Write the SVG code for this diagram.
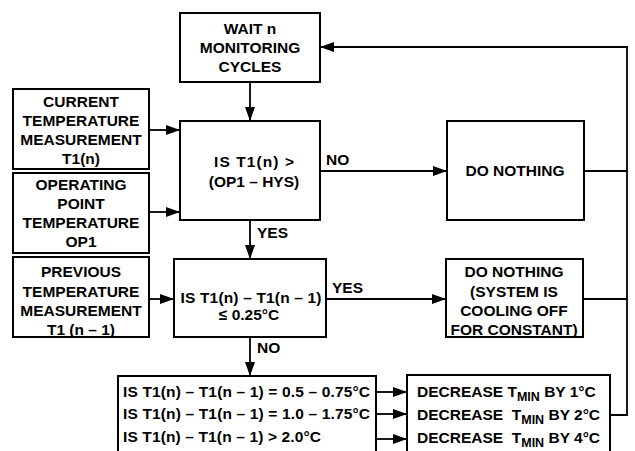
<svg xmlns="http://www.w3.org/2000/svg" width="635" height="451" viewBox="0 0 635 451">
<style>
.box{fill:#fff;stroke:#000;stroke-width:2}
.ln{fill:none;stroke:#000;stroke-width:1.8}
text{font-family:"Liberation Sans",Arial,Helvetica,sans-serif;font-weight:bold;font-size:15.5px;fill:#000}
.c{text-anchor:middle}
.sub{font-size:12.5px}
</style>
<defs>
<marker id="ah" viewBox="0 0 14 10" refX="14" refY="5" markerWidth="14" markerHeight="10" markerUnits="userSpaceOnUse" orient="auto">
<path d="M0,0 L14,5 L0,10 z" fill="#000"/>
</marker>
</defs>
<rect width="635" height="451" fill="#fff"/>
<g id="connectors">
<path class="ln" d="M250,82 V121" marker-end="url(#ah)"/>
<path class="ln" d="M149,130 H180" marker-end="url(#ah)"/>
<path class="ln" d="M149,212 H180" marker-end="url(#ah)"/>
<path class="ln" d="M250,220 V259" marker-end="url(#ah)"/>
<path class="ln" d="M149,299 H174" marker-end="url(#ah)"/>
<path class="ln" d="M320,171 H447" marker-end="url(#ah)"/>
<path class="ln" d="M326,299 H446" marker-end="url(#ah)"/>
<path class="ln" d="M250,337 V376" marker-end="url(#ah)"/>
<path class="ln" d="M376,392 H407" marker-end="url(#ah)"/>
<path class="ln" d="M376,414 H407" marker-end="url(#ah)"/>
<path class="ln" d="M376,439 H407" marker-end="url(#ah)"/>
<path class="ln" d="M584,171 H627"/>
<path class="ln" d="M583,299 H627"/>
<path class="ln" d="M610,415 H627 V47 H320" marker-end="url(#ah)"/>
<text x="326" y="165">NO</text>
<text x="257" y="238">YES</text>
<text x="332" y="293">YES</text>
<text x="257" y="353">NO</text>
</g>
<g id="wait">
<rect class="box" x="180" y="13" width="140" height="69"/>
<text class="c" x="250" y="34">WAIT n</text>
<text class="c" x="250" y="53">MONITORING</text>
<text class="c" x="250" y="72">CYCLES</text>
</g>
<g id="current">
<rect class="box" x="13" y="89" width="136" height="80"/>
<text class="c" x="81" y="107">CURRENT</text>
<text class="c" x="81" y="126">TEMPERATURE</text>
<text class="c" x="81" y="145">MEASUREMENT</text>
<text class="c" x="81" y="164">T1(n)</text>
</g>
<g id="operating">
<rect class="box" x="13" y="173" width="136" height="80"/>
<text class="c" x="81" y="190">OPERATING</text>
<text class="c" x="81" y="209">POINT</text>
<text class="c" x="81" y="228">TEMPERATURE</text>
<text class="c" x="81" y="247">OP1</text>
</g>
<g id="previous">
<rect class="box" x="13" y="257" width="136" height="80"/>
<text class="c" x="81" y="277">PREVIOUS</text>
<text class="c" x="81" y="297">TEMPERATURE</text>
<text class="c" x="81" y="316">MEASUREMENT</text>
<text class="c" x="81" y="335">T1 (n – 1)</text>
</g>
<g id="decision1">
<rect class="box" x="180" y="121" width="140" height="99"/>
<text class="c" x="254" y="167" textLength="80">IS T1(n) &gt;</text>
<text class="c" x="254" y="187">(OP1 – HYS)</text>
</g>
<g id="decision2">
<rect class="box" x="174" y="259" width="152" height="78"/>
<text class="c" x="251" y="303" textLength="141">IS T1(n) – T1(n – 1)</text>
<text class="c" x="249" y="320">≤ 0.25°C</text>
</g>
<g id="donothing1">
<rect class="box" x="447" y="121" width="137" height="99"/>
<text class="c" x="515" y="176">DO NOTHING</text>
</g>
<g id="donothing2">
<rect class="box" x="446" y="259" width="137" height="78"/>
<text class="c" x="514" y="277">DO NOTHING</text>
<text class="c" x="514" y="297">(SYSTEM IS</text>
<text class="c" x="514" y="316">COOLING OFF</text>
<text class="c" x="514" y="335">FOR CONSTANT)</text>
</g>
<g id="conditions">
<rect class="box" x="118" y="376" width="258" height="80"/>
<text x="123" y="397" textLength="247">IS T1(n) – T1(n – 1) = 0.5 – 0.75°C</text>
<text x="123" y="419" textLength="247">IS T1(n) – T1(n – 1) = 1.0 – 1.75°C</text>
<text x="123" y="442" textLength="198">IS T1(n) – T1(n – 1) &gt; 2.0°C</text>
</g>
<g id="actions">
<rect class="box" x="407" y="375" width="203" height="80"/>
<text x="417" y="397">DECREASE T<tspan class="sub" dy="4">MIN</tspan><tspan dy="-4"> BY 1°C</tspan></text>
<text x="417" y="420" xml:space="preserve">DECREASE  T<tspan class="sub" dy="4">MIN</tspan><tspan dy="-4"> BY 2°C</tspan></text>
<text x="417" y="443" xml:space="preserve">DECREASE  T<tspan class="sub" dy="4">MIN</tspan><tspan dy="-4"> BY 4°C</tspan></text>
</g>
</svg>
